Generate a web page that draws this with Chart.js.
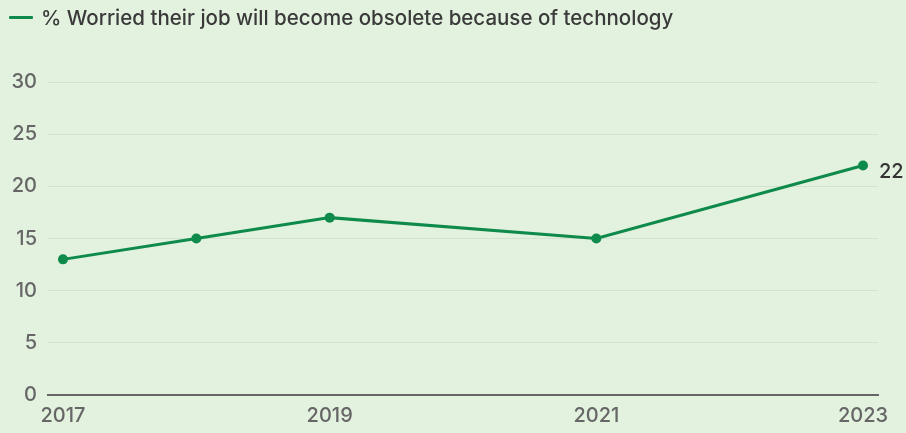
<!DOCTYPE html>
<html>
<head>
<meta charset="utf-8">
<script src="https://cdn.jsdelivr.net/npm/chart.js@4/dist/chart.umd.min.js"></script>
<style>
  html, body { margin: 0; padding: 0; background: #e3f1df; }
  #wrap { position: relative; width: 906px; height: 433px; }
  #legend { position: absolute; left: 9px; top: 5px; font-family: Inter, "Noto Sans", sans-serif; font-size: 20.5px; font-weight: 500; color: #3a3a3a; display: flex; align-items: center; white-space: nowrap; }
  #legend .sw { width: 24px; height: 3px; background: #0e8a4b; margin-right: 8px; border-radius: 1px; }
  canvas { position: absolute; left: 0; top: 0; }
</style>
</head>
<body>
<div id="wrap">
  <canvas id="c" width="906" height="433"></canvas>
  <div id="legend"><span class="sw"></span><span id="legendText"></span></div>
</div>
<script>
const seriesName = "% Worried their job will become obsolete because of technology";
const years = [2017, 2018, 2019, 2021, 2023];
const values = [13, 15, 17, 15, 22];
const xTickYears = [2017, 2019, 2021, 2023];
const yTicks = [0, 5, 10, 15, 20, 25, 30];

document.getElementById('legendText').textContent = seriesName;

const green = '#0e8a4b';
const fontFamily = 'Inter, "Noto Sans", sans-serif';

const lastLabel = {
  id: 'lastLabel',
  afterDatasetsDraw(chart) {
    const meta = chart.getDatasetMeta(0);
    const p = meta.data[meta.data.length - 1];
    const ctx = chart.ctx;
    ctx.save();
    ctx.font = '500 20px ' + fontFamily;
    ctx.fillStyle = '#333';
    ctx.textBaseline = 'middle';
    ctx.textAlign = 'left';
    ctx.fillText(String(values[values.length - 1]), p.x + 16, p.y + 7);
    ctx.restore();
  }
};

new Chart(document.getElementById('c'), {
  type: 'line',
  data: {
    datasets: [{
      label: seriesName,
      data: years.map((y, i) => ({ x: y, y: values[i] })),
      borderColor: green,
      backgroundColor: green,
      borderWidth: 3,
      pointRadius: 5,
      pointHoverRadius: 5,
      pointBackgroundColor: green,
      pointBorderWidth: 0,
      tension: 0
    }]
  },
  options: {
    responsive: false,
    animation: false,
    events: [],
    layout: { padding: { top: 82, right: 28, left: 0, bottom: 0 } },
    plugins: { legend: { display: false }, tooltip: { enabled: false } },
    scales: {
      x: {
        type: 'linear',
        min: 2016.8875,
        max: 2023.1125,
        afterBuildTicks(scale) { scale.ticks = xTickYears.map(v => ({ value: v })); },
        afterFit(scale) { scale.height = 38; },
        ticks: {
          callback: v => String(v),
          color: '#666',
          font: { family: fontFamily, size: 20, weight: '500' },
          padding: 9,
          maxRotation: 0,
          autoSkip: false
        },
        grid: { display: false, drawTicks: false },
        border: { display: true, color: '#666', width: 2 }
      },
      y: {
        min: 0,
        max: 30,
        afterBuildTicks(scale) { scale.ticks = yTicks.map(v => ({ value: v })); },
        afterFit(scale) { scale.width = 48; },
        ticks: {
          color: '#666',
          font: { family: fontFamily, size: 20, weight: '500' },
          padding: 11
        },
        grid: { color: '#d2e2ce', lineWidth: 1, drawTicks: false },
        border: { display: false }
      }
    }
  },
  plugins: [lastLabel]
});
</script>
</body>
</html>
